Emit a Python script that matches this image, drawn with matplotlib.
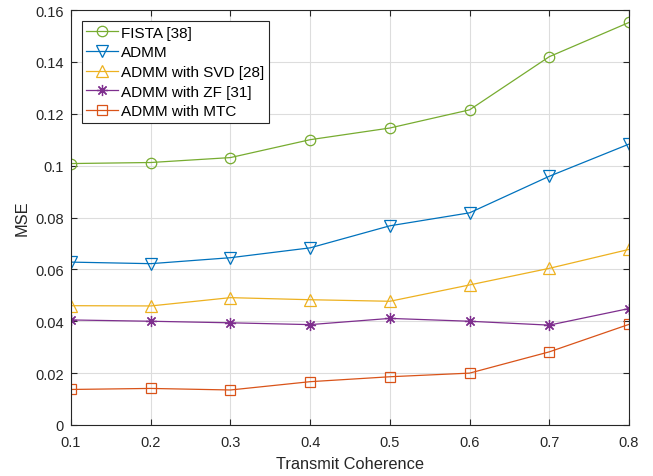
import matplotlib
matplotlib.use("Agg")
import matplotlib.pyplot as plt
import numpy as np

plt.rcParams['font.family'] = ['Liberation Sans', 'DejaVu Sans']

x = [0.1, 0.2, 0.3, 0.4, 0.5, 0.6, 0.7, 0.8]
fista = [0.1008, 0.1012, 0.1031, 0.1100, 0.1145, 0.1215, 0.1420, 0.1552]
admm = [0.0628, 0.0622, 0.0645, 0.0683, 0.0768, 0.0818, 0.0959, 0.1083]
admm_svd = [0.0460, 0.0459, 0.0491, 0.0483, 0.0477, 0.0540, 0.0604, 0.0677]
admm_zf = [0.0405, 0.0400, 0.0394, 0.0387, 0.0411, 0.0400, 0.0385, 0.0449]
admm_mtc = [0.0137, 0.0141, 0.0135, 0.0167, 0.0186, 0.0200, 0.0282, 0.0388]

labels = ['FISTA [38]', 'ADMM', 'ADMM with SVD [28]', 'ADMM with ZF [31]', 'ADMM with MTC']
colors = ['#77AC30', '#0072BD', '#EDB120', '#7E2F8E', '#D95319']
markers = ['o', 'v', '^', (8, 2, 0), 's']
msizes = [7.5, 9.2, 9.2, 8, 6.5]
series = [fista, admm, admm_svd, admm_zf, admm_mtc]
xticks = [0.1, 0.2, 0.3, 0.4, 0.5, 0.6, 0.7, 0.8]
yticks = [0, 0.02, 0.04, 0.06, 0.08, 0.1, 0.12, 0.14, 0.16]
yticklabels = ['0', '0.02', '0.04', '0.06', '0.08', '0.1', '0.12', '0.14', '0.16']

fig = plt.figure(figsize=(6.53, 4.77), dpi=100)
ax = fig.add_axes([71/653, 51/477, 558/653, 415/477])

for y, lab, c, m, ms in zip(series, labels, colors, markers, msizes):
    ax.plot(x, y, color=c, marker=m, markerfacecolor='none', markeredgecolor=c,
            markersize=ms, linewidth=0.9, markeredgewidth=0.9, label=lab)

ax.set_xlim(0.1, 0.8)
ax.set_ylim(0, 0.16)
ax.set_xticks(xticks)
ax.set_xticklabels([f'{v:g}' for v in xticks])
ax.set_yticks(yticks)
ax.set_yticklabels(yticklabels)
ax.grid(True, color='#DDDDDD', linewidth=0.8)
ax.set_axisbelow(True)
ax.tick_params(direction='in', length=4, width=0.8, labelsize=10.5, colors='#262626',
               top=True, right=True)
ax.tick_params(axis='x', pad=7)
ax.tick_params(axis='y', pad=5)
for s in ax.spines.values():
    s.set_color('#262626')
    s.set_linewidth(0.8)
ax.set_xlabel('Transmit Coherence', fontsize=11.8, color='#262626', labelpad=5)
ax.set_ylabel('MSE', fontsize=11.8, color='#262626', labelpad=4)

leg = ax.legend(loc='upper left', bbox_to_anchor=(0.019, 0.973), fontsize=11,
                fancybox=False, edgecolor='#262626', framealpha=1,
                handlelength=2.1, handletextpad=0.2, borderpad=0.3,
                labelspacing=0.37, borderaxespad=0)
leg.get_frame().set_linewidth(0.8)

fig.savefig('out.png', dpi=100)
